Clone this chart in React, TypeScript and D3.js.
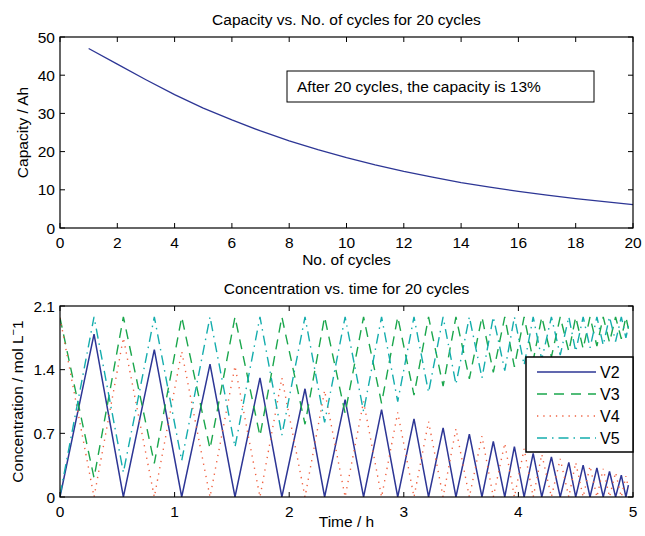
import React from "react";
import * as d3 from "d3";

// ---------- Top chart data ----------
const cycles = [1, 2, 3, 4, 5, 6, 7, 8, 9, 10, 11, 12, 13, 14, 15, 16, 17, 18, 19, 20];
const capacity = [47.0, 42.9, 38.8, 34.9, 31.4, 28.3, 25.4, 22.8, 20.5, 18.4, 16.5, 14.8, 13.3, 11.9, 10.7, 9.6, 8.6, 7.7, 6.9, 6.1];
const topXTicks = [0, 2, 4, 6, 8, 10, 12, 14, 16, 18, 20];
const topYTicks = [0, 10, 20, 30, 40, 50];

// ---------- Bottom chart data (vertices of the charge/discharge segments) ----------
const timeH = [0, 0.297, 0.553, 0.823, 1.062, 1.309, 1.527, 1.745, 1.936, 2.138, 2.309, 2.488, 2.649, 2.806, 2.947, 3.089, 3.216, 3.343, 3.455, 3.572, 3.682, 3.781, 3.881, 3.965, 4.05, 4.129, 4.204, 4.288, 4.365, 4.44, 4.5, 4.565, 4.625, 4.685, 4.74, 4.795, 4.848, 4.898, 4.938, 4.96];
const v2 = [0, 1.79, 0, 1.62, 0, 1.46, 0, 1.31, 0, 1.19, 0, 1.07, 0, 0.96, 0, 0.86, 0, 0.76, 0, 0.69, 0, 0.61, 0, 0.555, 0, 0.48, 0, 0.44, 0, 0.38, 0, 0.35, 0, 0.32, 0, 0.28, 0, 0.24, 0, 0.13];
const v3 = [1.97, 0.21, 1.98, 0.37, 1.98, 0.53, 1.98, 0.67, 1.98, 0.80, 1.98, 0.92, 1.98, 1.03, 1.98, 1.12, 1.98, 1.22, 1.98, 1.30, 1.98, 1.37, 1.98, 1.43, 1.98, 1.50, 1.98, 1.54, 1.98, 1.60, 1.98, 1.63, 1.98, 1.66, 1.98, 1.70, 1.98, 1.74, 1.98, 1.85];
const v4 = [1.97, 0, 1.75, 0, 1.60, 0, 1.44, 0, 1.31, 0, 1.17, 0, 1.05, 0, 0.93, 0, 0.83, 0, 0.75, 0, 0.67, 0, 0.59, 0, 0.53, 0, 0.47, 0, 0.42, 0, 0.38, 0, 0.34, 0, 0.31, 0, 0.27, 0, 0.23, 0.10];
const v5 = [0.02, 1.98, 0.27, 1.98, 0.40, 1.98, 0.55, 1.98, 0.68, 1.98, 0.82, 1.98, 0.94, 1.98, 1.05, 1.98, 1.15, 1.98, 1.24, 1.98, 1.31, 1.98, 1.39, 1.98, 1.45, 1.98, 1.51, 1.98, 1.56, 1.98, 1.60, 1.98, 1.64, 1.98, 1.67, 1.98, 1.71, 1.98, 1.75, 1.88];
const botXTicks = [0, 1, 2, 3, 4, 5];
const botYTicks = [0, 0.7, 1.4, 2.1];

const seriesNames = ["V2", "V3", "V4", "V5"];
const seriesValues = [v2, v3, v4, v5];
const seriesColors = ["#2d3695", "#1aa64c", "#f0603f", "#14adad"];
const seriesDash = ["none", "10,7", "1.3,5", "10,5,1.5,5"];

const FONT = "'Liberation Sans', Arial, Helvetica, sans-serif";
const FS = 15.5;

const L = 60, R = 633;
const topT = 37, topB = 228;
const botT = 306, botB = 497;

function Axes({ x, y, xTicks, yTicks, xFmt, yFmt }: any) {
  const [x0, x1] = x.range();
  const [y0, y1] = y.range(); // y0 bottom, y1 top
  const tl = 5;
  return (
    <g>
      {xTicks.map((t: number) => (
        <g key={"x" + t}>
          <line x1={x(t)} x2={x(t)} y1={y0} y2={y0 - tl} stroke="#000" strokeWidth={1} />
          <line x1={x(t)} x2={x(t)} y1={y1} y2={y1 + tl} stroke="#000" strokeWidth={1} />
          <text x={x(t)} y={y0 + 20} textAnchor="middle" fontSize={FS} fontFamily={FONT}>{xFmt(t)}</text>
        </g>
      ))}
      {yTicks.map((t: number) => (
        <g key={"y" + t}>
          <line x1={x0} x2={x0 + tl} y1={y(t)} y2={y(t)} stroke="#000" strokeWidth={1} />
          <line x1={x1} x2={x1 - tl} y1={y(t)} y2={y(t)} stroke="#000" strokeWidth={1} />
          <text x={x0 - 5} y={y(t) + 5.5} textAnchor="end" fontSize={FS} fontFamily={FONT}>{yFmt(t)}</text>
        </g>
      ))}
      <rect x={x0} y={y1} width={x1 - x0} height={y0 - y1} fill="none" stroke="#000" strokeWidth={1.2} />
    </g>
  );
}

export default function App() {
  const xTop = d3.scaleLinear().domain([0, 20]).range([L, R]);
  const yTop = d3.scaleLinear().domain([0, 50]).range([topB, topT]);
  const xBot = d3.scaleLinear().domain([0, 5]).range([L, R]);
  const yBot = d3.scaleLinear().domain([0, 2.1]).range([botB, botT]);

  const capLine = d3.line<number>().x((_, i) => xTop(cycles[i])).y((d) => yTop(d));
  const concLine = (vals: number[]) =>
    d3.line<number>().x((_, i) => xBot(timeH[i])).y((d) => yBot(d))(vals) || "";

  const legX = 526, legY = 357, legW = 107, legH = 95;
  const legRows = [372, 394, 416, 438];

  return (
    <svg width={645} height={536} style={{ position: "absolute", left: 0, top: 0, background: "#fff" }} xmlns="http://www.w3.org/2000/svg">
      <rect x={0} y={0} width={645} height={536} fill="#fff" />
      {/* ---- Top chart ---- */}
      <text x={(L + R) / 2} y={25} textAnchor="middle" fontSize={FS} fontFamily={FONT}>Capacity vs. No. of cycles for 20 cycles</text>
      <path d={capLine(capacity) || ""} fill="none" stroke="#2d3695" strokeWidth={1.3} />
      <Axes x={xTop} y={yTop} xTicks={topXTicks} yTicks={topYTicks} xFmt={(t: number) => String(t)} yFmt={(t: number) => String(t)} />
      <rect x={287} y={71} width={307} height={31} fill="#fff" stroke="#000" strokeWidth={1} />
      <text x={297} y={92} fontSize={FS} fontFamily={FONT}>After 20 cycles, the capacity is 13%</text>
      <text x={(L + R) / 2} y={265} textAnchor="middle" fontSize={FS} fontFamily={FONT}>No. of cycles</text>
      <text transform={`translate(28,${(topT + topB) / 2}) rotate(-90)`} textAnchor="middle" fontSize={FS} fontFamily={FONT}>Capacity / Ah</text>

      {/* ---- Bottom chart ---- */}
      <text x={(L + R) / 2} y={294} textAnchor="middle" fontSize={FS} fontFamily={FONT}>Concentration vs. time for 20 cycles</text>
      <defs>
        <clipPath id="botclip">
          <rect x={L} y={botT} width={R - L} height={botB - botT} />
        </clipPath>
      </defs>
      <g clipPath="url(#botclip)">
        {seriesValues.map((vals, i) => (
          <path key={seriesNames[i]} d={concLine(vals)} fill="none" stroke={seriesColors[i]}
            strokeWidth={i === 0 ? 1.5 : 1.4} strokeDasharray={seriesDash[i]} />
        ))}
      </g>
      <Axes x={xBot} y={yBot} xTicks={botXTicks} yTicks={botYTicks} xFmt={(t: number) => String(t)} yFmt={(t: number) => (t === 0 ? "0" : t.toFixed(1))} />
      <text x={(L + R) / 2} y={527} textAnchor="middle" fontSize={FS} fontFamily={FONT}>Time / h</text>
      <text transform={`translate(23,${(botT + botB) / 2}) rotate(-90)`} textAnchor="middle" fontSize={FS} fontFamily={FONT}>
        Concentration / mol L<tspan dy={-6} fontSize={11}>−</tspan><tspan dy={6}>1</tspan>
      </text>

      {/* ---- Legend ---- */}
      <rect x={legX} y={legY} width={legW} height={legH} fill="#fff" stroke="#000" strokeWidth={1.5} />
      {seriesNames.map((n, i) => (
        <g key={"leg" + n}>
          <line x1={537} x2={596} y1={legRows[i]} y2={legRows[i]} stroke={seriesColors[i]} strokeWidth={i === 0 ? 1.5 : 1.4} strokeDasharray={seriesDash[i]} />
          <text x={600} y={legRows[i] + 6} fontSize={16} fontFamily={FONT}>{n}</text>
        </g>
      ))}
    </svg>
  );
}
